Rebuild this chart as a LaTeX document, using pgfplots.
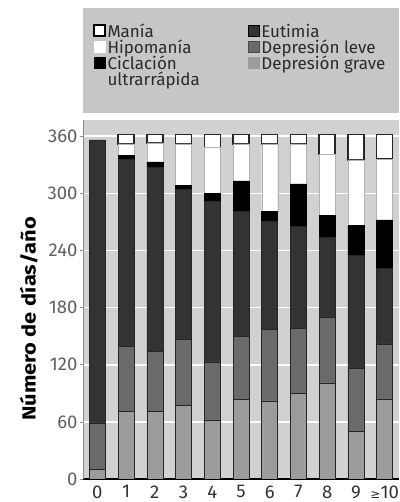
\documentclass[border=0pt]{standalone}
\usepackage{fontspec}
\setmainfont{Fira Sans}
\newfontfamily\dejavu{DejaVu Sans}
\usepackage{graphicx}
\usepackage{pgfplots}
\pgfplotsset{compat=1.18}
\definecolor{bgplot}{HTML}{D1D1D1}
\definecolor{bglegend}{HTML}{C6C6C6}
\definecolor{cgrave}{HTML}{9C9C9C}
\definecolor{cleve}{HTML}{6A6A6A}
\definecolor{ceut}{HTML}{333333}
\definecolor{tickgray}{HTML}{5E5E6A}
\definecolor{legtext}{HTML}{2A2A2A}

\begin{document}
\begin{tikzpicture}[x=1pt,y=1pt]
\useasboundingbox (0,0) rectangle (399,502);
\fill[bglegend] (83,389) rectangle (399,494);
\begin{axis}[
  at={(83pt,23pt)}, anchor=south west,
  scale only axis, width=316pt, height=359pt,
  ybar stacked, bar width=16pt,
  xmin=-0.5, xmax=10.5, ymin=0, ymax=377,
  xtick={0,1,2,3,4,5,6,7,8,9,10},
  xticklabels={0,1,2,3,4,5,6,7,8,9,{{\dejavu\fontsize{12}{12}\selectfont ≥}10}},
  ytick={0,60,120,180,240,300,360},
  axis background/.style={fill=bgplot},
  ymajorgrids, grid style={white, line width=1.6pt},
  axis x line*=bottom, axis y line*=left,
  axis line style={-},
  x axis line style={black, line width=1.8pt},
  y axis line style={black!45, line width=0.6pt},
  xtick style={draw=none},
  ytick style={black!45, line width=0.6pt},
  tick align=outside, major tick length=3pt,
  tick label style={font=\fontsize{18.5}{18.5}\selectfont},
  yticklabel style={text=tickgray, xshift=1pt},
  xticklabel style={text=black!80},
  /pgf/number format/assume math mode=true,
  ylabel={\scalebox{1.15}[1]{Número de días/año}},
  ylabel style={font=\bfseries\fontsize{19}{19}\selectfont, at={(axis description cs:-0.172,0.446)}, anchor=center},
  legend columns=2,
  legend style={at={(axis description cs:0.032,1.268)}, anchor=north west,
    draw=none, fill=none, text=legtext, inner sep=0pt,
    font=\fontsize{17}{17}\selectfont,
    nodes={inner xsep=2pt, inner ysep=0pt},
    row sep=0.9pt,
    /tikz/every even column/.append style={column sep=46pt}},
  legend cell align=left,
  legend image code/.code={\draw[#1] (0pt,-4.5pt) rectangle (11pt,6.5pt);},
]
% bottom to top
\addplot+[forget plot, fill=cgrave, draw=black!85, line width=0.5pt] coordinates
  {(0,10) (1,71) (2,71) (3,77) (4,62) (5,84) (6,82) (7,90) (8,101) (9,50) (10,84)};
\addplot+[forget plot, fill=cleve, draw=black!85, line width=0.5pt] coordinates
  {(0,49) (1,68) (2,63) (3,70) (4,61) (5,66) (6,75) (7,68) (8,69) (9,66) (10,58)};
\addplot+[forget plot, fill=ceut, draw=black!85, line width=0.5pt] coordinates
  {(0,297) (1,197) (2,193) (3,157) (4,169) (5,131) (6,114) (7,107) (8,84) (9,119) (10,79)};
\addplot+[forget plot, fill=black, draw=black, line width=0.5pt] coordinates
  {(0,0) (1,4) (2,6) (3,4) (4,8) (5,32) (6,10) (7,45) (8,23) (9,31) (10,51)};
\addplot+[forget plot, fill=white, draw=black!30, line width=0.4pt] coordinates
  {(0,0) (1,12) (2,20) (3,44) (4,48) (5,39) (6,71) (7,42) (8,64) (9,69) (10,64)};
\addplot+[forget plot, fill=white, draw=black!85, line width=1.5pt] coordinates
  {(0,0) (1,10) (2,9) (3,10) (4,14) (5,10) (6,10) (7,10) (8,21) (9,27) (10,26)};
% legend
\addlegendimage{fill=white, draw=black, line width=1.2pt}
\addlegendentry{Manía}
\addlegendimage{fill=ceut, draw=black, line width=0.5pt}
\addlegendentry{Eutimia}
\addlegendimage{fill=white, draw=white}
\addlegendentry{Hipomanía}
\addlegendimage{fill=cleve, draw=cleve!70!black, line width=0.5pt}
\addlegendentry{Depresión leve}
\addlegendimage{fill=black, draw=black}
\addlegendentry{Ciclación}
\addlegendimage{fill=cgrave, draw=cgrave}
\addlegendentry{Depresión grave}
\addlegendimage{empty legend}
\addlegendentry{ultrarrápida}
\end{axis}
\end{tikzpicture}
\end{document}
